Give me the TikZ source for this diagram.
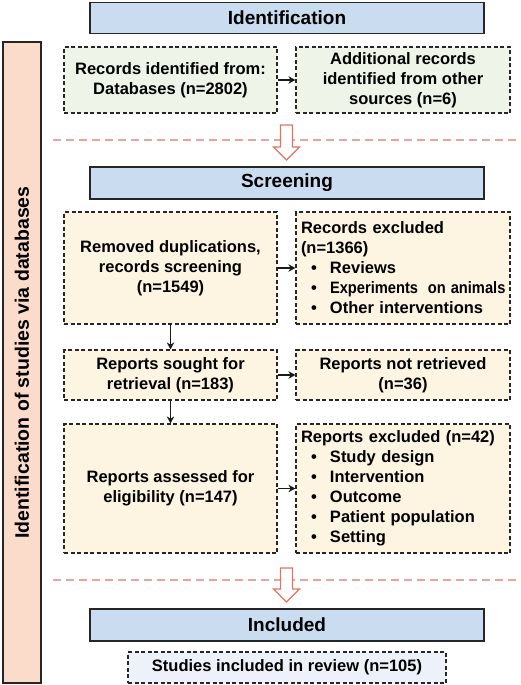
\documentclass[tikz,border=0pt]{standalone}
\usepackage{fontspec}
\setmainfont{Liberation Sans}
\usetikzlibrary{arrows.meta, positioning}
\definecolor{prismablue}{HTML}{CADDF0}
\definecolor{prismapeach}{HTML}{FBDCCB}
\definecolor{prismagreen}{HTML}{EFF4E8}
\definecolor{prismacream}{HTML}{FDF5E2}
\definecolor{prismapale}{HTML}{EDF1FA}
\definecolor{prismared}{HTML}{E27462}
\definecolor{prismaline}{HTML}{F0A395}
\newcommand{\bitem}[1]{\hspace*{10pt}\makebox[19pt][l]{\textbullet}#1}
\tikzset{
  headbox/.style={draw=black!85, line width=1.3pt, fill=prismablue, minimum width=394pt,
    minimum height=31pt, inner sep=0pt, font=\fontsize{19}{22}\selectfont\bfseries},
  dashbox/.style={draw=black!85, line width=1.2pt, dash pattern=on 4pt off 2.5pt,
    minimum width=213pt, inner sep=4pt, align=center, font=\fontsize{16.5}{20}\selectfont\bfseries},
  listbox/.style={dashbox, align=left, text width=204pt, inner sep=5pt},
  flow/.style={-{Stealth[length=7pt,width=7.5pt]}, line width=1.3pt, black!90},
  sepline/.style={prismaline, line width=1.3pt, dash pattern=on 8pt off 5pt},
  hollow/.style={prismared, line width=1.2pt, fill=white, line join=miter}
}
\begin{document}
\begin{tikzpicture}[x=1pt, y=-1pt]
  \useasboundingbox (0,0) rectangle (520,685);
  \node[draw=black!85, line width=1.3pt, fill=prismapeach, minimum width=38pt, minimum height=641pt,
    inner sep=0pt] (side) at (22,362.5) {};
  \node[rotate=90, font=\fontsize{19.5}{22}\selectfont\bfseries] (sidelabel) at (side.center)
    {Identification of studies via databases};

  \draw[sepline] (53,140) -- (520,140);
  \draw[sepline] (53,580) -- (520,580);
  \foreach \yt/\yb/\ye in {125/147/160, 568/589/602}{
    \draw[hollow] (280.5,\yt) -- (292.5,\yt) -- (292.5,\yb) -- (299.5,\yb) -- (286.5,\ye)
      -- (273.5,\yb) -- (280.5,\yb) -- cycle;
  }

  \node[headbox] (ident) at (287,18) {Identification};
  \node[dashbox, fill=prismagreen, minimum height=66pt] (recdb) at (170.5,80)
    {Records identified from:\\Databases (n=2802)};
  \node[dashbox, fill=prismagreen, minimum height=66pt, minimum width=214pt] (recoth) at (403,80)
    {Additional records\\identified from other\\sources (n=6)};

  \node[headbox, minimum height=32pt] (screen) at (287,183) {Screening};
  \node[dashbox, fill=prismacream, minimum height=112pt] (removed) at (170.5,268)
    {Removed duplications,\\records screening\\(n=1549)};
  \node[listbox, fill=prismacream, minimum height=112pt] (recexcl) at (403,268)
    {Records excluded\\(n=1366)\\\bitem{Reviews}\\
     \bitem{\scalebox{0.89}[1]{Experiments\ \ on animals}}\\\bitem{Other interventions}};

  \node[dashbox, fill=prismacream, minimum height=50pt] (sought) at (170.5,375)
    {Reports sought for\\retrieval (n=183)};
  \node[dashbox, fill=prismacream, minimum height=50pt, minimum width=214pt] (notret) at (403,375)
    {Reports not retrieved\\(n=36)};

  \node[dashbox, fill=prismacream, minimum height=129pt] (assessed) at (170.5,488.5)
    {Reports assessed for\\eligibility (n=147)};
  \node[listbox, fill=prismacream, minimum height=129pt] (repexcl) at (403,488.5)
    {Reports excluded (n=42)\\\bitem{Study design}\\\bitem{Intervention}\\\bitem{Outcome}\\
     \bitem{Patient population}\\\bitem{Setting}};

  \node[headbox, minimum height=32pt] (incl) at (287,625) {Included};
  \node[dashbox, fill=prismapale, minimum height=31pt, minimum width=318pt, inner sep=2pt] (studies)
    at (287,667.5) {Studies included in review (n=105)};

  \draw[flow] (recdb) -- (recoth);
  \draw[flow] (removed) -- (recexcl);
  \draw[flow] (sought) -- (notret);
  \draw[flow] (assessed) -- (repexcl);
  \draw[flow] (removed) -- (sought);
  \draw[flow] (sought) -- (assessed);
\end{tikzpicture}
\end{document}
